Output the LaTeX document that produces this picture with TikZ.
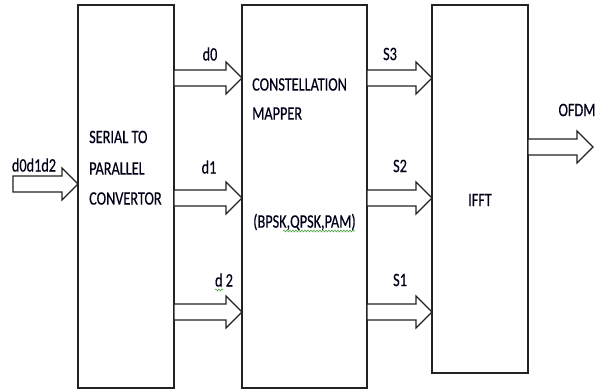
\documentclass[tikz,border=0pt]{standalone}
\usepackage{fontspec}
\setmainfont{Carlito}[FakeStretch=0.75,FakeBold=0.4]
\usetikzlibrary{calc,positioning,decorations.pathmorphing}
\definecolor{bdline}{RGB}{35,35,35}
\definecolor{spellgreen}{RGB}{70,165,60}
\tikzset{
  blk/.style={draw=bdline,line width=1.4pt,minimum width=96pt,inner sep=0pt,outer sep=0pt,anchor=north west},
  lbl/.style={font=\fontsize{19}{22}\selectfont,inner sep=0pt,text=black!90!blue},
  fat/.style={draw=bdline,line width=1.2pt,fill=white,line join=miter},
  squig/.style={spellgreen,line width=0.6pt,decorate,decoration={snake,amplitude=0.9pt,segment length=3pt}}
}
% block arrow: shaft starts at (#1), tip at (#2)
\newcommand\fatarrow[2]{%
  \draw[fat] let \p1=(#1),\p2=(#2) in
    (\x1,\y2+8pt) -- (\x2-16pt,\y2+8pt) -- (\x2-16pt,\y2+16pt) -- (\x2,\y2)
    -- (\x2-16pt,\y2-16pt) -- (\x2-16pt,\y2-8pt) -- (\x1,\y2-8pt) -- cycle;}

\begin{document}
\begin{tikzpicture}[x=1pt,y=-1pt]
  \fill[white] (0,0) rectangle (597,389);
  \useasboundingbox (0,0) rectangle (597,389);

  % the three blocks
  \node[blk,minimum height=383pt] (sp) at (78,5) {};
  \node[blk,minimum width=125pt,minimum height=383pt,right=68pt of sp.north east,anchor=north west] (cm) {};
  \node[blk,minimum height=368pt,right=65pt of cm.north east,anchor=north west] (ifft) {};

  \node[lbl,anchor=west] (t1) at (89,137) {SERIAL TO};
  \node[lbl,anchor=west] (t2) at (89,168.5) {PARALLEL};
  \node[lbl,anchor=west] (t3) at (89,198.5) {CONVERTOR};
  \node[lbl,anchor=west] (t4) at (252,84.5) {CONSTELLATION};
  \node[lbl,anchor=west] (t5) at (252,113.5) {MAPPER};
  \node[lbl,anchor=west] (t6) at (253,222) {(BPSK,QPSK,PAM)};
  \node[lbl] (t7) at (480,200) {IFFT};

  % block arrows
  \coordinate (in) at (13,184);
  \coordinate (out) at (593,147);
  \fatarrow{in}{sp.west |- in}
  \foreach \yy in {78,198,312} {
    \fatarrow{sp.east |- 0,\yy}{cm.west |- 0,\yy}
    \fatarrow{cm.east |- 0,\yy}{ifft.west |- 0,\yy}
  }
  \fatarrow{ifft.east |- out}{out}

  \node[lbl] (lin) at (34,165) {d0d1d2};
  \node[lbl] (ld0) at (210,54) {d0};
  \node[lbl] (ld1) at (209,167) {d1};
  \node[lbl] (ld2) at (224,280) {d 2};
  \node[lbl] (ls3) at (390,54) {S3};
  \node[lbl] (ls2) at (400,166) {S2};
  \node[lbl] (ls1) at (400,280) {S1};
  \node[lbl] (lout) at (577,110) {OFDM};

  % spell-check marks
  \draw[squig] (283,231) -- (355,231);
  \draw[squig] (215,290) -- (223,290);
\end{tikzpicture}
\end{document}
